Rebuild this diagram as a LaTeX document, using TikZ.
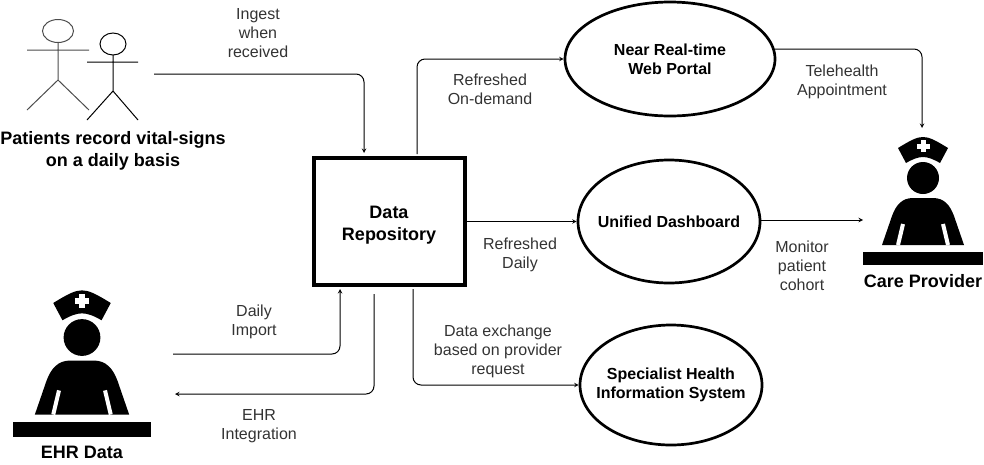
\documentclass[tikz,border=0pt]{standalone}
\usepackage{fontspec}
\setmainfont{Liberation Sans}
\usepackage{tikz}
\usetikzlibrary{positioning}
\usetikzlibrary{shapes}
\tikzset{flow/.style={draw=black,line width=1pt,->,>=stealth,rounded corners=8pt}}
\tikzset{store/.style={rectangle,draw=black,line width=4pt,minimum width=151pt,minimum height=127pt,align=center,font=\bfseries\fontsize{18}{22}\selectfont}}
\tikzset{system/.style={ellipse,draw=black,line width=2.7pt,inner xsep=-20pt,inner ysep=0pt,align=center,font=\bfseries\fontsize{16}{19}\selectfont}}
\tikzset{note/.style={align=center,text=black!80,font=\fontsize{16}{19}\selectfont}}
\tikzset{role/.style={align=center,font=\bfseries\fontsize{18}{22}\selectfont}}
\tikzset{stick/.style={draw=black!70,line width=1pt}}
\tikzset{nurse/.pic={
  \fill (-60,-6.5) rectangle (60,6.5);
  \fill (0,-80) circle (16);
  \fill (-41,-13) -- (-31,-42) .. controls (-27,-53) and (-21,-60) .. (-10,-60)
    -- (10,-60) .. controls (21,-60) and (27,-53) .. (31,-42) -- (41,-13) -- cycle;
  \draw [white,line width=4pt] (-25,-13) -- (-20,-34);
  \draw [white,line width=4pt] (25,-13) -- (20,-34);
  \fill (-25,-110) .. controls (-12,-118) and (-6,-121) .. (0,-121)
    .. controls (6,-121) and (12,-118) .. (25,-110) -- (17,-95)
    .. controls (10,-99) and (5,-101) .. (0,-101)
    .. controls (-5,-101) and (-10,-99) .. (-17,-95) -- cycle;
  \fill [white] (-2.5,-118) rectangle (2.5,-106);
  \fill [white] (-6.5,-114.5) rectangle (6.5,-109.5);
}}

\begin{document}
\begin{tikzpicture}[x=1pt,y=-1pt]
  \useasboundingbox (0,0) rectangle (984,464);

  % the two patients
  \draw [stick] (58,31) ellipse (15.5 and 11.5);
  \draw [stick] (58,42.5) -- (58,80) (27,50) -- (89,50)
                (27,110) -- (58,80) -- (89,110);
  \draw [stick,draw=black] (113,44) ellipse (13 and 11);
  \draw [stick,draw=black] (113,55) -- (113,91) (87,62) -- (138,62)
                (87,120) -- (113,91) -- (138,120);
  \node [role] (patients) at (113,151) {Patients record vital-signs\\on a daily basis};

  % the other roles
  \pic [scale=1.15] at (82,429.5) {nurse};
  \node [role] (ehr) at (82,452) {EHR Data};
  \pic at (923,258) {nurse};
  \node [role] (care) at (923,281) {Care Provider};

  \node [store] (repo) at (389,221.5) {\rule{0pt}{20pt}Data\\Repository};
  \node [system,minimum width=210pt,minimum height=114pt] (portal) at (670,59) {Near Real-time\\Web Portal};
  \node [system,minimum width=182pt,minimum height=123pt] (dash) at (669,221.5) {Unified Dashboard};
  \node [system,minimum width=182pt,minimum height=120pt] (special) at (671,385) {Specialist Health\\Information System};

  % free ends of the connectors
  \coordinate (patientsout) at (154,74);
  \coordinate (repoin) at (364,153);
  \coordinate (repoup) at (417,154);
  \coordinate (portalout) at (775,49);
  \coordinate (carein) at (922,128);
  \coordinate (dashout) at (760,220);
  \coordinate (careside) at (863,220);
  \coordinate (ehrout) at (173,354);
  \coordinate (repoback) at (340,289);
  \coordinate (repodown) at (374,294);
  \coordinate (ehrin) at (175,394);
  \coordinate (repoex) at (413,289);

  \draw [flow] (patientsout) -| (repoin);
  \draw [flow] (repoup) |- (portal.west);
  \draw [flow] (repo.east) -- (dash.west);
  \draw [flow] (repoex) |- (special.west);
  \draw [flow] (ehrout) -| (repoback);
  \draw [flow] (repodown) |- (ehrin);
  \draw [flow] (portalout) -| (carein);
  \draw [flow] (dashout) -- (careside);

  \node [note] (ingest) at (258,33) {Ingest\\when\\received};
  \node [note] (demand) at (490,89) {Refreshed\\On-demand};
  \node [note] (daily) at (520,255) {Refreshed\\Daily};
  \node [note] (exchange) at (498,351) {Data exchange\\based on provider\\request};
  \node [note] (import) at (254,322) {Daily\\Import};
  \node [note] (integration) at (259,426) {EHR\\Integration};
  \node [note] (tele) at (842,82) {Telehealth\\Appointment};
  \node [note] (cohort) at (802,266) {Monitor\\patient\\cohort};
\end{tikzpicture}
\end{document}
